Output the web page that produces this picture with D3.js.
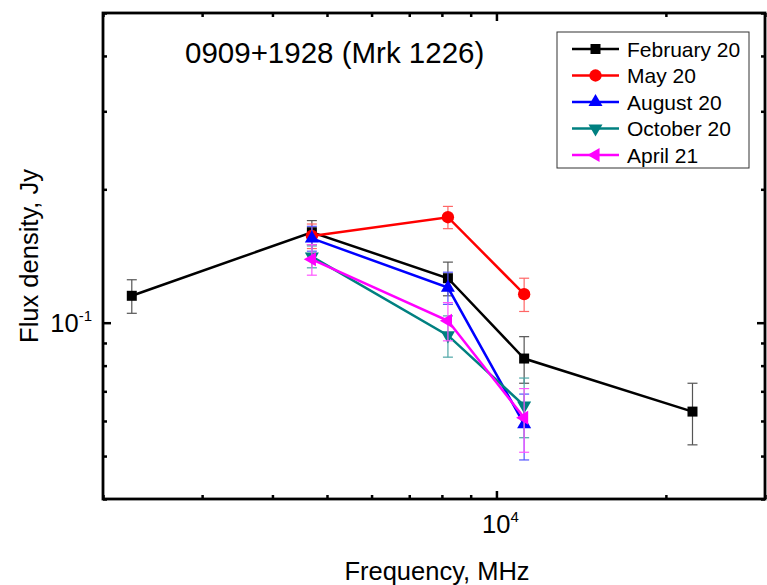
<!DOCTYPE html>
<html>
<head>
<meta charset="utf-8">
<script src="https://cdn.jsdelivr.net/npm/d3@7"></script>
<style>
  html, body { margin: 0; padding: 0; background: #fff; }
  svg { display: block; font-family: "Liberation Sans", Arial, sans-serif; }
</style>
</head>
<body>
<svg id="chart" width="767" height="585"></svg>
<script>
// ---- data ----
const freqFeb = [2250, 4700, 8200, 11200, 22300];
const fluxFeb = [0.115, 0.160, 0.126, 0.083, 0.063];
const errFeb  = [0.010, 0.010, 0.011, 0.010, 0.010];

const freqMay = [4700, 8200, 11200];
const fluxMay = [0.157, 0.173, 0.116];
const errMay  = [0.010, 0.010, 0.010];

const freqAug = [4700, 8200, 11200];
const fluxAug = [0.155, 0.120, 0.059];
const errAug  = [0.010, 0.010, 0.010];

const freqOct = [4700, 8200, 11200];
const fluxOct = [0.141, 0.0936, 0.065];
const errOct  = [0.008, 0.010, 0.010];

const freqApr = [4700, 8200, 11200];
const fluxApr = [0.139, 0.101, 0.061];
const errApr  = [0.011, 0.010, 0.010];

const seriesNames = ["February 20", "May 20", "August 20", "October 20", "April 21"];
const xMinorTicks = [2000, 3000, 4000, 5000, 6000, 7000, 8000, 9000, 20000, 30000];
const xMajorTicks = [10000];
const yMinorTicks = [0.04, 0.05, 0.06, 0.07, 0.08, 0.09, 0.2, 0.3, 0.4, 0.5];
const yMajorTicks = [0.1];

// ---- layout ----
const svg = d3.select("#chart");
const L = 103, R = 765, T = 13, B = 499;
const x = d3.scaleLog().domain([2000, 30000]).range([L, R]);
const y = d3.scaleLog().domain([0.04, 0.5]).range([B, T]);

const styles = [
  {color: "#000000", err: "#555555", sym: "square"},
  {color: "#ff0000", err: "#ff6666", sym: "circle"},
  {color: "#0000ff", err: "#5555ff", sym: "up"},
  {color: "#008080", err: "#4da6a6", sym: "down"},
  {color: "#ff00ff", err: "#ff55ff", sym: "left"}
];
const data = [
  {f: freqFeb, v: fluxFeb, e: errFeb},
  {f: freqMay, v: fluxMay, e: errMay},
  {f: freqAug, v: fluxAug, e: errAug},
  {f: freqOct, v: fluxOct, e: errOct},
  {f: freqApr, v: fluxApr, e: errApr}
];

function drawMarker(g, sym, cx, cy, color) {
  let path, rot = 0;
  if (sym === "square") path = d3.symbol().type(d3.symbolSquare).size(100)();
  else if (sym === "circle") path = d3.symbol().type(d3.symbolCircle).size(120)();
  else {
    path = d3.symbol().type(d3.symbolTriangle).size(85)();
    rot = sym === "up" ? 0 : sym === "down" ? 180 : -90;
  }
  g.append("path").attr("d", path)
    .attr("transform", `translate(${cx},${cy}) rotate(${rot})`)
    .attr("fill", color);
}

// ---- axes (ticks inward on all sides) ----
function tickAxis(axisFn, scale, values, size) {
  return axisFn(scale).tickValues(values).tickSize(size).tickFormat("");
}
const axG = svg.append("g");
axG.append("g").attr("transform", `translate(0,${B})`).call(tickAxis(d3.axisBottom, x, xMinorTicks, -4));
axG.append("g").attr("transform", `translate(0,${B})`).call(tickAxis(d3.axisBottom, x, xMajorTicks, -8));
axG.append("g").attr("transform", `translate(0,${T})`).call(tickAxis(d3.axisTop, x, xMinorTicks, -4));
axG.append("g").attr("transform", `translate(0,${T})`).call(tickAxis(d3.axisTop, x, xMajorTicks, -8));
axG.append("g").attr("transform", `translate(${L},0)`).call(tickAxis(d3.axisLeft, y, yMinorTicks, -4));
axG.append("g").attr("transform", `translate(${L},0)`).call(tickAxis(d3.axisLeft, y, yMajorTicks, -8));
axG.append("g").attr("transform", `translate(${R},0)`).call(tickAxis(d3.axisRight, y, yMinorTicks, -4));
axG.append("g").attr("transform", `translate(${R},0)`).call(tickAxis(d3.axisRight, y, yMajorTicks, -8));
axG.selectAll(".domain").remove();
axG.selectAll(".tick line").attr("stroke", "#000").attr("stroke-width", 2.5);

// frame
svg.append("rect").attr("x", L).attr("y", T).attr("width", R - L).attr("height", B - T)
  .attr("fill", "none").attr("stroke", "#000").attr("stroke-width", 2.8);

// tick labels
xMajorTicks.forEach(t => {
  const tx = svg.append("text").attr("x", x(t) + 4).attr("y", 533)
    .attr("text-anchor", "middle").attr("font-size", 25.5).attr("fill", "#000");
  tx.append("tspan").text("10");
  tx.append("tspan").attr("font-size", 15).attr("dy", -11).text(Math.round(Math.log10(t)));
});
yMajorTicks.forEach(t => {
  const ty = svg.append("text").attr("x", 92).attr("y", y(t) + 9)
    .attr("text-anchor", "end").attr("font-size", 25.5).attr("fill", "#000");
  ty.append("tspan").text("10");
  ty.append("tspan").attr("font-size", 15).attr("dy", -11).text(Math.round(Math.log10(t)));
});

// axis titles
svg.append("text").attr("x", 437).attr("y", 580).attr("text-anchor", "middle")
  .attr("font-size", 25.5).text("Frequency, MHz");
svg.append("text").attr("transform", `translate(38,256) rotate(-90)`).attr("text-anchor", "middle")
  .attr("font-size", 25.5).text("Flux density, Jy");

// title
svg.append("text").attr("x", 185).attr("y", 63).attr("font-size", 29.5).text("0909+1928 (Mrk 1226)");

// ---- series ----
const line = d3.line().x(d => x(d[0])).y(d => y(d[1]));
data.forEach((s, i) => {
  const st = styles[i];
  const g = svg.append("g");
  const pts = s.f.map((f, k) => [f, s.v[k], s.e[k]]);
  // error bars
  pts.forEach(p => {
    const cx = x(p[0]), y1 = y(p[1] + p[2]), y2 = y(p[1] - p[2]);
    g.append("line").attr("x1", cx).attr("x2", cx).attr("y1", y1).attr("y2", y2)
      .attr("stroke", st.err).attr("stroke-width", 1.2);
    [y1, y2].forEach(yy => g.append("line").attr("x1", cx - 5).attr("x2", cx + 5)
      .attr("y1", yy).attr("y2", yy).attr("stroke", st.err).attr("stroke-width", 1.2));
  });
  g.append("path").attr("d", line(pts)).attr("fill", "none")
    .attr("stroke", st.color).attr("stroke-width", 2.5);
  pts.forEach(p => drawMarker(g, st.sym, x(p[0]), y(p[1]), st.color));
});

// ---- legend ----
const lg = svg.append("g");
lg.append("rect").attr("x", 557).attr("y", 32).attr("width", 192).attr("height", 136)
  .attr("fill", "#fff").attr("stroke", "#333").attr("stroke-width", 1);
seriesNames.forEach((name, i) => {
  const st = styles[i];
  const yy = 49 + i * 26.5;
  lg.append("line").attr("x1", 572).attr("x2", 619).attr("y1", yy).attr("y2", yy)
    .attr("stroke", st.color).attr("stroke-width", 2.5);
  drawMarker(lg, st.sym, 595.5, yy, st.color);
  lg.append("text").attr("x", 627).attr("y", yy + 7.5).attr("font-size", 21).text(name);
});
</script>
</body>
</html>
